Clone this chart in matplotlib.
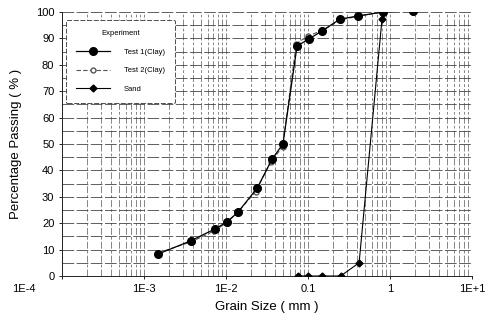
import matplotlib
matplotlib.use("Agg")
import matplotlib.pyplot as plt
import matplotlib.transforms as mtransforms

plt.rcParams['font.family'] = ['Liberation Sans', 'DejaVu Sans']

# Data
test1_x = [1.48e-3, 3.7e-3, 7.3e-3, 1.03e-2, 1.4e-2, 2.4e-2, 3.65e-2, 4.95e-2, 7.35e-2, 0.103, 0.148, 0.245, 0.41, 0.82, 1.9]
test1_y = [8.3, 13.3, 17.8, 20.5, 24.2, 33.3, 44.3, 50.0, 87.1, 89.8, 92.8, 97.3, 98.5, 100.0, 100.5]
test2_x = [1.5e-3, 3.8e-3, 7.1e-3, 1.0e-2, 1.38e-2, 2.3e-2, 3.5e-2, 4.9e-2, 7.2e-2, 0.101, 0.15, 0.25, 0.42, 0.83, 1.9]
test2_y = [8.8, 13.0, 17.0, 20.0, 24.0, 32.0, 43.0, 49.0, 88.0, 91.0, 93.0, 97.0, 98.5, 100.0, 100.5]
sand_x = [0.075, 0.1, 0.15, 0.25, 0.42, 0.8, 0.82]
sand_y = [0.0, 0.0, 0.0, 0.0, 5.0, 97.5, 100.0]

xticks = [1e-4, 1e-3, 1e-2, 1e-1, 1, 10]
xticklabels = ["1E-4", "1E-3", "1E-2", "0.1", "1", "1E+1"]
yticks = list(range(0, 101, 10))

fig = plt.figure(figsize=(4.87, 3.22), dpi=100)
ax = fig.add_axes([62/487, 46/322, 410/487, 264/322])
ax.set_xscale('log')
ax.set_xlim(1e-4, 10)
ax.set_ylim(0, 100)

# grid
ax.grid(True, which='both', axis='x', color='#555555', lw=0.5, ls=(0, (10, 3, 4, 3)))
ax.set_yticks(list(range(0, 101, 5)), minor=True)
ax.grid(True, which='both', axis='y', color='#444444', lw=0.6, ls=(0, (14, 3)))

l1, = ax.plot(test1_x, test1_y, color='black', lw=0.9, marker='o', ms=5.5, label='Test 1(Clay)', zorder=4)
l2, = ax.plot(test2_x, test2_y, color='#555555', lw=0.8, ls=(0, (4, 2)), marker='o', ms=3.5, mfc='white', mec='#555555', label='Test 2(Clay)', zorder=3)
l3, = ax.plot(sand_x, sand_y, color='black', lw=0.8, marker='D', ms=3.5, label='Sand', zorder=4)

ax.set_xticks(xticks)
ax.set_xticklabels(xticklabels)
ax.set_yticks(yticks)
ax.tick_params(axis='both', which='major', labelsize=8, length=2, width=0.6, direction='out')
ax.tick_params(axis='both', which='minor', length=0)
# shift first x label left as in reference
lab0 = ax.get_xticklabels()[0]
lab0.set_transform(lab0.get_transform() + mtransforms.ScaledTranslation(-38/100, 0, fig.dpi_scale_trans))

for s in ax.spines.values():
    s.set_linewidth(0.7)
    s.set_color('#222222')
ax.spines['top'].set_visible(False)
ax.spines['right'].set_visible(False)

ax.set_xlabel('Grain Size ( mm )', fontsize=9.5, labelpad=5)
ax.set_ylabel('Percentage Passing ( % )', fontsize=9.5, labelpad=10)

leg = ax.legend(handles=[l1, l2, l3], title='Experiment', loc='upper left',
                bbox_to_anchor=(0.0, 0.985), fontsize=5.5, title_fontsize=5.5,
                frameon=True, fancybox=True, edgecolor='#333333', framealpha=1,
                handlelength=4.5, labelspacing=1.5, borderpad=1.3, handletextpad=1.8)
leg.get_frame().set_linewidth(0.6)
leg.get_frame().set_linestyle((0, (6, 2)))

fig.savefig('out.png', dpi=100)
